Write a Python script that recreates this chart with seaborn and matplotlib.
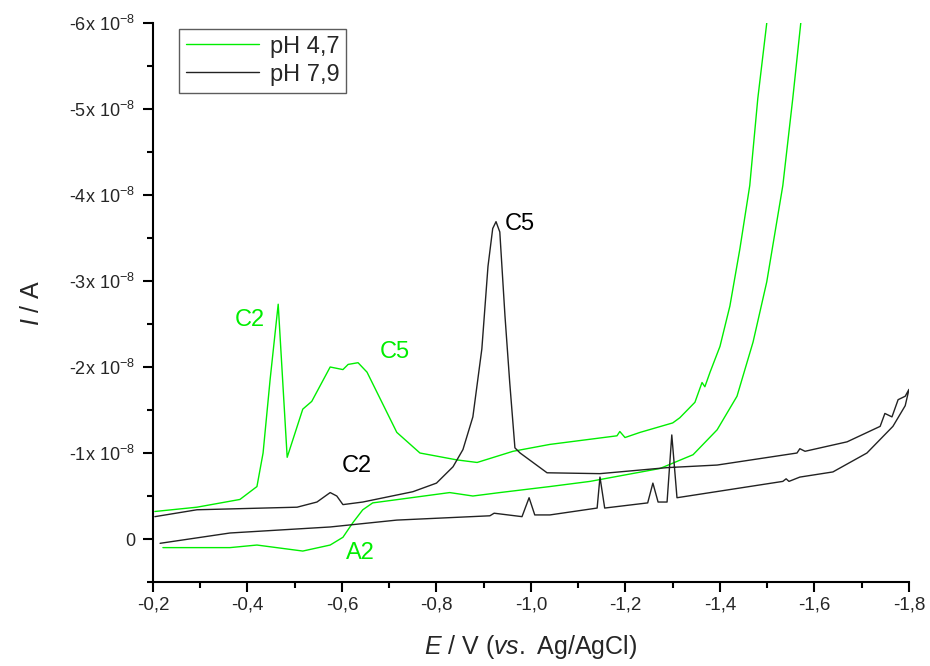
import matplotlib
matplotlib.use("Agg")
import matplotlib.pyplot as plt
from matplotlib.ticker import MultipleLocator, FixedLocator
import seaborn as sns
import pandas as pd

# potential (V vs Ag/AgCl) and current (x1e-8 A)
E_ph47 = [-0.204, -0.293, -0.384, -0.42, -0.433, -0.448, -0.465, -0.484, -0.517, -0.536,
          -0.575, -0.602, -0.613, -0.634, -0.653, -0.716, -0.765, -0.843, -0.886, -0.962,
          -1.04, -1.182, -1.188, -1.199, -1.231, -1.30, -1.315, -1.347, -1.362, -1.368,
          -1.379, -1.40, -1.421, -1.442, -1.463, -1.48, -1.499, -1.52,
          -1.59, -1.571, -1.554, -1.533, -1.499, -1.47, -1.436, -1.394, -1.343, -1.273,
          -1.125, -1.04, -0.934, -0.877, -0.828, -0.665, -0.644, -0.623, -0.602, -0.575,
          -0.517, -0.42, -0.363, -0.221]
I_ph47 = [-0.32, -0.37, -0.46, -0.61, -1.00, -1.86, -2.73, -0.95, -1.51, -1.60,
          -2.00, -1.97, -2.03, -2.05, -1.94, -1.24, -1.00, -0.92, -0.89, -1.02,
          -1.10, -1.20, -1.25, -1.18, -1.24, -1.35, -1.41, -1.59, -1.82, -1.77,
          -1.94, -2.24, -2.71, -3.37, -4.11, -5.12, -6.00, -7.00,
          -7.00, -6.00, -5.12, -4.11, -2.99, -2.29, -1.66, -1.27, -0.98, -0.82,
          -0.67, -0.61, -0.54, -0.50, -0.54, -0.42, -0.34, -0.19, -0.02, 0.07,
          0.14, 0.07, 0.10, 0.10]

E_ph79 = [-0.204, -0.293, -0.505, -0.547, -0.575, -0.589, -0.602, -0.644, -0.75, -0.80,
          -0.835, -0.856, -0.877, -0.896, -0.909, -0.919, -0.926, -0.934, -0.945, -0.955,
          -0.966, -0.977, -1.034, -1.146, -1.288, -1.394, -1.563, -1.569, -1.58, -1.669,
          -1.739, -1.749, -1.764, -1.777, -1.792, -1.80,
          -1.792, -1.766, -1.711, -1.639, -1.569, -1.546, -1.54, -1.533, -1.309, -1.298,
          -1.288, -1.269, -1.258, -1.247, -1.156, -1.146, -1.14, -1.04, -1.008, -0.996,
          -0.981, -0.922, -0.913, -0.716, -0.575, -0.363, -0.215]
I_ph79 = [-0.26, -0.34, -0.37, -0.43, -0.54, -0.50, -0.40, -0.43, -0.55, -0.65,
          -0.84, -1.04, -1.42, -2.21, -3.17, -3.61, -3.69, -3.57, -2.59, -1.82,
          -1.06, -1.00, -0.77, -0.76, -0.83, -0.86, -1.00, -1.05, -1.02, -1.13,
          -1.31, -1.46, -1.42, -1.62, -1.66, -1.74,
          -1.55, -1.31, -1.00, -0.78, -0.72, -0.67, -0.70, -0.67, -0.48, -1.21,
          -0.43, -0.43, -0.65, -0.42, -0.36, -0.72, -0.36, -0.28, -0.28, -0.48,
          -0.26, -0.30, -0.27, -0.22, -0.14, -0.07, 0.05]

xticks = [-0.2, -0.4, -0.6, -0.8, -1.0, -1.2, -1.4, -1.6, -1.8]
yticks = [0, -1, -2, -3, -4, -5, -6]

sns.set_style("ticks")
plt.rcParams['font.family'] = ['Liberation Sans', 'DejaVu Sans']
plt.rcParams['mathtext.fontset'] = 'custom'
plt.rcParams['mathtext.rm'] = 'Liberation Sans'
plt.rcParams['mathtext.it'] = 'Liberation Sans:italic'
plt.rcParams['mathtext.default'] = 'regular'

green = '#00ee00'
fig = plt.figure(figsize=(9.3, 6.66), dpi=100)
ax = fig.add_axes([0.1645, 0.1261, 0.8129, 0.8394])

df47 = pd.DataFrame({'E': E_ph47, 'I': I_ph47})
df79 = pd.DataFrame({'E': E_ph79, 'I': I_ph79})
sns.lineplot(data=df47, x='E', y='I', sort=False, estimator=None, color=green, lw=1.0, ax=ax, label='pH 4,7')
sns.lineplot(data=df79, x='E', y='I', sort=False, estimator=None, color='#222222', lw=1.0, ax=ax, label='pH 7,9')

ax.set_xlim(-0.2, -1.8)
ax.set_ylim(0.5, -6.0)
sns.despine(ax=ax)
for s in ['left', 'bottom']:
    ax.spines[s].set_linewidth(1.5)
    ax.spines[s].set_color('black')

ax.xaxis.set_major_locator(FixedLocator(xticks))
ax.set_xticklabels([f"{v:.1f}".replace('.', ',') for v in xticks], fontsize=13.5)
ax.xaxis.set_minor_locator(MultipleLocator(0.1))
ax.yaxis.set_major_locator(FixedLocator(yticks))
ax.set_yticklabels(['0'] + [f"{v}x 10$^{{-8}}$" for v in yticks[1:]], fontsize=13)
ax.yaxis.set_minor_locator(MultipleLocator(0.5))
ax.tick_params(which='major', length=7, width=1.5, color='black')
ax.tick_params(axis='y', pad=6)
ax.tick_params(which='minor', length=4, width=1.5, color='black')

ax.set_xlabel(r"$\it{E}$ / V ($\it{vs.}$ Ag/AgCl)", fontsize=18, labelpad=14)
ax.set_ylabel(r"$\it{I}$ / A", fontsize=18, labelpad=18)

ax.text(-0.405, -2.55, 'C2', color=green, fontsize=17, ha='center', va='center')
ax.text(-0.712, -2.18, 'C5', color=green, fontsize=17, ha='center', va='center')
ax.text(-0.638, 0.16, 'A2', color=green, fontsize=17, ha='center', va='center')
ax.text(-0.632, -0.85, 'C2', color='black', fontsize=17, ha='center', va='center')
ax.text(-0.977, -3.66, 'C5', color='black', fontsize=17, ha='center', va='center')

leg = ax.legend(loc='upper left', bbox_to_anchor=(0.034, 0.99), fontsize=17, frameon=True,
                fancybox=False, edgecolor='#333333', handlelength=3.1, borderpad=0.3,
                labelspacing=0.25, handletextpad=0.45, borderaxespad=0)
leg.get_frame().set_linewidth(1.0)

plt.savefig('out.png', dpi=100)
